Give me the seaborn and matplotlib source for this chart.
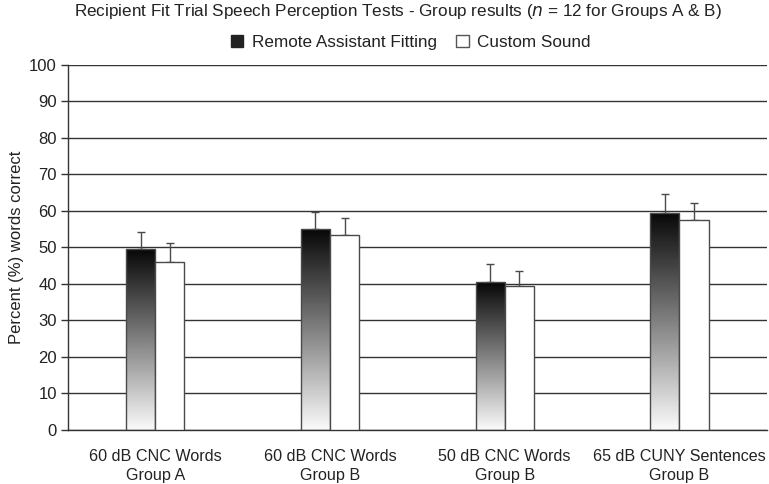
import matplotlib
matplotlib.use("Agg")
import matplotlib.pyplot as plt
import seaborn as sns
import pandas as pd
import numpy as np
from matplotlib.patches import Patch

tests = ["60 dB CNC Words\nGroup A", "60 dB CNC Words\nGroup B",
         "50 dB CNC Words\nGroup B", "65 dB CUNY Sentences\nGroup B"]
remote = [49.5, 55.0, 40.5, 59.5]
remote_err = [4.8, 4.6, 5.0, 5.1]
custom = [46.0, 53.5, 39.5, 57.5]
custom_err = [5.1, 4.6, 4.1, 4.6]
methods = ["Remote Assistant Fitting", "Custom Sound"]

df = pd.DataFrame({
    "test": tests * 2,
    "score": remote + custom,
    "err": remote_err + custom_err,
    "method": [methods[0]] * 4 + [methods[1]] * 4,
})

sns.set_style("white")
plt.rcParams["font.family"] = ["Liberation Sans", "DejaVu Sans"]

fig = plt.figure(figsize=(7.69, 4.84), dpi=100)
ax = fig.add_axes([0.0884, 0.1116, 0.9086, 0.7541])

edge = "#4a4a4a"
sns.barplot(data=df, x="test", y="score", hue="method", palette=["black", "white"],
            edgecolor=edge, linewidth=1.0, width=0.334, gap=0, errorbar=None,
            legend=False, ax=ax, zorder=3)

# gradient fill for the remote bars + upper error bars
grad = np.linspace(0.03, 0.98, 256).reshape(-1, 1)
bars = ax.patches
for i, bar in enumerate(bars):
    row = df.iloc[i]
    x0 = bar.get_x()
    w = bar.get_width()
    h = bar.get_height()
    if row["method"] == methods[0]:
        bar.set_facecolor("none")
        im = ax.imshow(grad, extent=[x0, x0 + w, 0, h], origin="upper", aspect="auto",
                       cmap="gray", vmin=0, vmax=1, zorder=2.5)
        im.set_clip_path(bar)
    ax.errorbar(x0 + w / 2, h, yerr=[[0], [row["err"]]], fmt="none", ecolor=edge,
                elinewidth=1.0, capsize=3, capthick=1.0, zorder=2)

ax.set_xlim(-0.5, 3.5)
ax.set_ylim(0, 100)
ax.set_yticks(range(0, 101, 10))
ax.yaxis.grid(True, color="#333333", linewidth=1.0)
ax.set_axisbelow(True)
ax.set_xticks([0, 1, 2, 3])
ax.set_xticklabels(tests, fontsize=11.6, color="#222222", linespacing=1.3)
ax.set_xticks([-0.5, 0.5, 1.5, 2.5, 3.5], minor=True)
ax.tick_params(axis="x", which="major", length=0, pad=14)
ax.tick_params(axis="x", which="minor", length=5, width=1, color="#333333", direction="out")
ax.tick_params(axis="y", length=5, width=1, color="#333333", direction="out",
               labelsize=12, labelcolor="#222222", pad=3, left=True)
ax.set_xlabel("")
ax.set_ylabel("Percent (%) words correct", fontsize=12, color="#222222", labelpad=4)
for s in ["top", "right"]:
    ax.spines[s].set_visible(False)
for s in ["left", "bottom"]:
    ax.spines[s].set_color("#333333")
    ax.spines[s].set_linewidth(1.0)

fig.text(0.517, 0.977,
         r"Recipient Fit Trial Speech Perception Tests - Group results ($\it{n}$ = 12 for Groups A & B)",
         ha="center", va="center", fontsize=12.3, color="#222222")

handles = [Patch(facecolor="#222222", edgecolor="#222222"),
           Patch(facecolor="white", edgecolor="#555555")]
fig.legend(handles, methods, loc="center", bbox_to_anchor=(0.534, 0.912), ncol=2,
           frameon=False, fontsize=12.3, handlelength=0.75, handleheight=0.75,
           handletextpad=0.5, columnspacing=1.1, labelcolor="#222222")

fig.savefig("out.png", dpi=100)
